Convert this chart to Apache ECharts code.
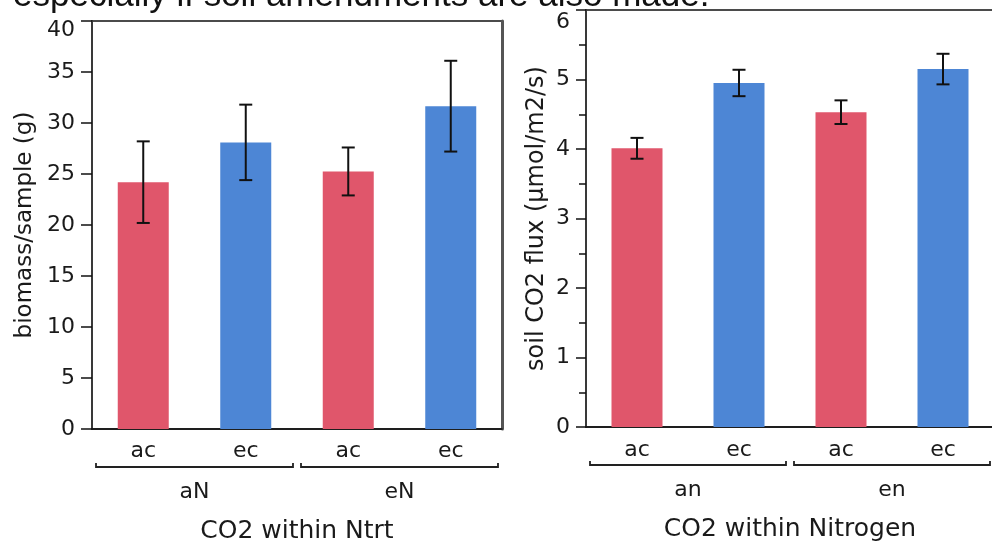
<!DOCTYPE html>
<html>
<head>
<meta charset="utf-8">
<script src="https://cdn.jsdelivr.net/npm/echarts@6/dist/echarts.min.js"></script>
<style>
  html, body { margin: 0; padding: 0; background: #fff; }
  #main { width: 992px; height: 544px; }
</style>
</head>
<body>
<div id="main"></div>
<script>
// data
var categories = ['ac', 'ec', 'ac', 'ec'];
var groupsLeft = ['aN', 'eN'];
var groupsRight = ['an', 'en'];
var biomassMean = [24.2, 28.1, 25.25, 31.65];
var biomassErr = [4.0, 3.7, 2.35, 4.45];
var fluxMean = [4.01, 4.95, 4.53, 5.15];
var fluxErr = [0.15, 0.19, 0.17, 0.22];
var leftTicks = [0, 5, 10, 15, 20, 25, 30, 35, 40];
var rightTicks = [0, 1, 2, 3, 4, 5, 6];

var RED = '#e0566b', BLUE = '#4d86d5';
var FONT = 'DejaVu Sans';

var chart = echarts.init(document.getElementById('main'));

function barData(vals) {
    return vals.map(function (v, i) {
        return { value: v, itemStyle: { color: categories[i] == 'ac' ? RED : BLUE } };
    });
}
function errData(mean, err) {
    return mean.map(function (m, i) { return [i, m - err[i], m + err[i]]; });
}
function renderErr(params, api) {
    var lo = api.coord([api.value(0), api.value(1)]);
    var hi = api.coord([api.value(0), api.value(2)]);
    var cap = 6.5;
    var st = { stroke: '#111', lineWidth: 2 };
    return {
        type: 'group',
        children: [
            { type: 'line', shape: { x1: hi[0], y1: hi[1], x2: lo[0], y2: lo[1] }, style: st },
            { type: 'line', shape: { x1: hi[0] - cap, y1: hi[1], x2: hi[0] + cap, y2: hi[1] }, style: st },
            { type: 'line', shape: { x1: lo[0] - cap, y1: lo[1], x2: lo[0] + cap, y2: lo[1] }, style: st }
        ]
    };
}
function renderBracket(params, api) {
    var g = api.value(0);
    var w = api.size([1, 0])[0];
    var a = api.coord([2 * g, 0]);
    var b = api.coord([2 * g + 1, 0]);
    var y = a[1] + 38;
    var l = a[0] - w / 2 + 4, r = b[0] + w / 2 - 4;
    return {
        type: 'polyline',
        shape: { points: [[l, y - 4], [l, y], [r, y], [r, y - 4]] },
        style: { stroke: '#222', lineWidth: 1.8, fill: null }
    };
}
// the top tick label is pushed down inside the panel
function topLabel(max) {
    return function (v) {
        return v == max ? '{e|}\n{t|' + v + '}' : v + '';
    };
}

var tickText = { color: '#1a1a1a', fontSize: 22, fontFamily: FONT };

option = {
    animation: false,
    textStyle: { fontFamily: FONT },
    graphic: [{
        type: 'text', left: 13, top: -21,
        style: { text: 'especially if soil amendments are also made.', fontSize: 35, fontFamily: 'Liberation Sans', fill: '#111' }
    }],
    grid: [
        { left: 92, right: 490, top: 21, bottom: 115, show: true, borderColor: '#111', borderWidth: 1.5, outerBoundsMode: 'none' },
        { left: 586, right: -2, top: 10, bottom: 117, show: true, borderColor: '#111', borderWidth: 1.5, outerBoundsMode: 'none' }
    ],
    xAxis: [
        {
            type: 'category', gridIndex: 0, data: categories,
            axisLine: { lineStyle: { color: '#111', width: 1.5 } },
            axisTick: { show: false },
            axisLabel: Object.assign({ margin: 11 }, tickText),
            splitLine: { show: true, interval: function (i) { return i == 2; }, lineStyle: { color: '#d9d9d9', width: 1.5 } }
        },
        {
            type: 'category', gridIndex: 0, data: groupsLeft, position: 'bottom', offset: 43,
            axisLine: { show: false }, axisTick: { show: false },
            axisLabel: Object.assign({ margin: 9 }, tickText),
            name: 'CO2 within Ntrt', nameLocation: 'middle', nameGap: 47,
            nameTextStyle: { color: '#1a1a1a', fontSize: 25, fontFamily: FONT }
        },
        {
            type: 'category', gridIndex: 1, data: categories,
            axisLine: { lineStyle: { color: '#111', width: 1.5 } },
            axisTick: { show: false },
            axisLabel: Object.assign({ margin: 12 }, tickText),
            splitLine: { show: true, interval: function (i) { return i == 2; }, lineStyle: { color: '#d9d9d9', width: 1.5 } }
        },
        {
            type: 'category', gridIndex: 1, data: groupsRight, position: 'bottom', offset: 43,
            axisLine: { show: false }, axisTick: { show: false },
            axisLabel: Object.assign({ margin: 9 }, tickText),
            name: 'CO2 within Nitrogen', nameLocation: 'middle', nameGap: 47,
            nameTextStyle: { color: '#1a1a1a', fontSize: 25, fontFamily: FONT }
        }
    ],
    yAxis: [
        {
            type: 'value', gridIndex: 0, min: leftTicks[0], max: leftTicks[leftTicks.length - 1], interval: 5,
            axisLine: { show: true, lineStyle: { color: '#111', width: 1.5 } },
            axisTick: { show: true, length: 11, lineStyle: { color: '#111', width: 1.5 } },
            splitLine: { show: false },
            axisLabel: Object.assign({
                margin: 17, formatter: topLabel(40),
                rich: { e: { height: 18, lineHeight: 18 }, t: Object.assign({ lineHeight: 26 }, tickText) }
            }, tickText),
            name: 'biomass/sample (g)', nameLocation: 'middle', nameGap: 55,
            nameTextStyle: { color: '#1a1a1a', fontSize: 23, fontFamily: FONT }
        },
        {
            type: 'value', gridIndex: 1, min: rightTicks[0], max: rightTicks[rightTicks.length - 1], interval: 1,
            axisLine: { show: true, lineStyle: { color: '#111', width: 1.5 } },
            axisTick: { show: true, length: 10, lineStyle: { color: '#111', width: 1.5 } },
            minorTick: { show: true, splitNumber: 2, length: 7, lineStyle: { color: '#111', width: 1.5 } },
            splitLine: { show: false },
            axisLabel: Object.assign({
                margin: 16, formatter: topLabel(6),
                rich: { e: { height: 24, lineHeight: 24 }, t: Object.assign({ lineHeight: 26 }, tickText) }
            }, tickText),
            name: 'soil CO2 flux (\u00b5mol/m2/s)', nameLocation: 'middle', nameGap: 37,
            nameTextStyle: { color: '#1a1a1a', fontSize: 24, fontFamily: FONT }
        },
        {
            // right frame of the left panel
            type: 'value', gridIndex: 0, position: 'right', min: 0, max: 40,
            axisLine: { show: true, lineStyle: { color: '#555', width: 3 } },
            axisTick: { show: false }, axisLabel: { show: false }, splitLine: { show: false }
        }
    ],
    series: [
        { type: 'bar', xAxisIndex: 0, yAxisIndex: 0, barWidth: 51, data: barData(biomassMean) },
        { type: 'custom', xAxisIndex: 0, yAxisIndex: 0, renderItem: renderErr, data: errData(biomassMean, biomassErr), z: 5 },
        { type: 'custom', xAxisIndex: 0, yAxisIndex: 0, renderItem: renderBracket, data: [[0], [1]], clip: false, silent: true },
        { type: 'bar', xAxisIndex: 2, yAxisIndex: 1, barWidth: 51, data: barData(fluxMean) },
        { type: 'custom', xAxisIndex: 2, yAxisIndex: 1, renderItem: renderErr, data: errData(fluxMean, fluxErr), z: 5 },
        { type: 'custom', xAxisIndex: 2, yAxisIndex: 1, renderItem: renderBracket, data: [[0], [1]], clip: false, silent: true }
    ]
};
chart.setOption(option);
</script>
</body>
</html>
